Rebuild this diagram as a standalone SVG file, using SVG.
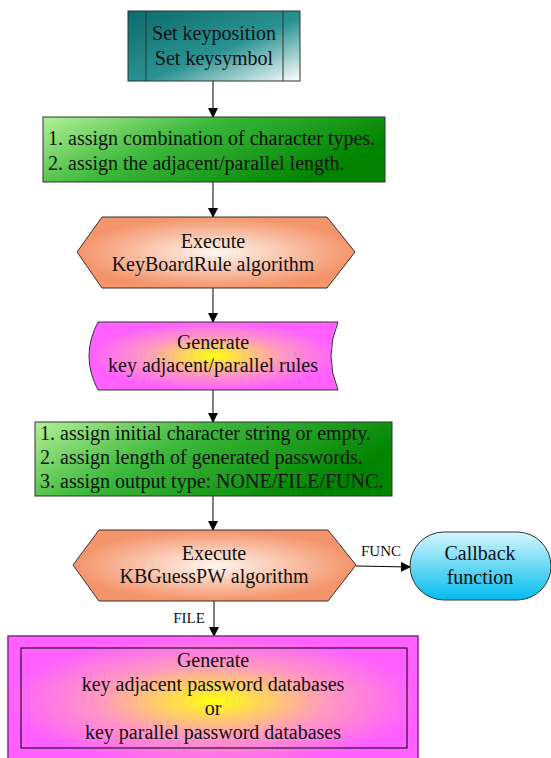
<svg xmlns="http://www.w3.org/2000/svg" width="551" height="758" viewBox="0 0 551 758">
<defs>
<linearGradient id="teal" x1="0" y1="0" x2="1" y2="1">
<stop offset="0" stop-color="#0b6c6c"/>
<stop offset="0.55" stop-color="#2a9292"/>
<stop offset="1" stop-color="#ffffff"/>
</linearGradient>
<linearGradient id="green" x1="0" y1="0" x2="1" y2="0.4">
<stop offset="0" stop-color="#b4f096"/>
<stop offset="0.45" stop-color="#3cb83c"/>
<stop offset="1" stop-color="#008400"/>
</linearGradient>
<radialGradient id="orange" cx="0.5" cy="0.5" r="0.5">
<stop offset="0" stop-color="#fff6f0"/>
<stop offset="1" stop-color="#f4946a"/>
</radialGradient>
<radialGradient id="mag" cx="0.5" cy="0.5" r="0.5">
<stop offset="0" stop-color="#ffff10"/>
<stop offset="0.55" stop-color="#ff9ac0"/>
<stop offset="1" stop-color="#ff60ff"/>
</radialGradient>
<linearGradient id="cyan" x1="0" y1="0" x2="0" y2="1">
<stop offset="0" stop-color="#d6f6fd"/>
<stop offset="1" stop-color="#00bcee"/>
</linearGradient>
<marker id="arr" markerWidth="10" markerHeight="10" refX="9" refY="5" orient="auto" markerUnits="userSpaceOnUse">
<path d="M0,0 L10,5 L0,10 z" fill="#000"/>
</marker>
</defs>
<style>
.t{font-family:"Liberation Serif","Times New Roman",serif;font-size:20px;fill:#111;}
.c{text-anchor:middle;}
.s{font-family:"Liberation Serif","Times New Roman",serif;font-size:15px;fill:#111;}
.e{stroke:#000;stroke-width:1;fill:none;marker-end:url(#arr);}
.b{stroke:#333;stroke-width:1;}
</style>
<g id="connectors">
<line class="e" x1="213" y1="81" x2="213" y2="117"/>
<line class="e" x1="213" y1="182" x2="213" y2="217"/>
<line class="e" x1="213" y1="288" x2="213" y2="322"/>
<line class="e" x1="213" y1="390" x2="213" y2="422"/>
<line class="e" x1="213" y1="496" x2="213" y2="530"/>
<line class="e" x1="214" y1="601" x2="214" y2="636"/>
<line class="e" x1="356" y1="566" x2="410" y2="567"/>
<text class="s c" x="381" y="556">FUNC</text>
<text class="s c" x="189" y="623">FILE</text>
</g>
<g id="n1">
<rect x="128" y="11" width="172" height="70" fill="url(#teal)" class="b"/>
<line x1="146" y1="11" x2="146" y2="81" class="b"/>
<line x1="283" y1="11" x2="283" y2="81" class="b"/>
<text class="t c" x="214" y="40">Set keyposition</text>
<text class="t c" x="214" y="65">Set keysymbol</text>
</g>
<g id="n2">
<rect x="43" y="117" width="342" height="65" fill="url(#green)" class="b"/>
<text class="t" x="48" y="145">1. assign combination of character types.</text>
<text class="t" x="48" y="170">2. assign the adjacent/parallel length.</text>
</g>
<g id="n3">
<polygon points="77,252 102,217 327,217 355,252 327,288 102,288" fill="url(#orange)" class="b"/>
<text class="t c" x="213" y="248">Execute</text>
<text class="t c" x="213" y="271">KeyBoardRule algorithm</text>
</g>
<g id="n4">
<path d="M98,322 L338,322 Q324,356 338,390 L98,390 Q80,356 98,322 Z" fill="url(#mag)" class="b"/>
<text class="t c" x="213" y="349">Generate</text>
<text class="t c" x="213" y="372">key adjacent/parallel rules</text>
</g>
<g id="n5">
<rect x="35" y="422" width="357" height="74" fill="url(#green)" class="b"/>
<text class="t" x="40" y="440">1. assign initial character string or empty.</text>
<text class="t" x="40" y="464">2. assign length of generated passwords.</text>
<text class="t" x="40" y="488">3. assign output type: NONE/FILE/FUNC.</text>
</g>
<g id="n6">
<polygon points="73,565 99,530 328,530 356,565 328,601 99,601" fill="url(#orange)" class="b"/>
<text class="t c" x="214" y="560">Execute</text>
<text class="t c" x="214" y="583">KBGuessPW algorithm</text>
</g>
<g id="n7">
<rect x="410" y="532" width="141" height="68" rx="34" ry="34" fill="url(#cyan)" class="b"/>
<text class="t c" x="480" y="560">Callback</text>
<text class="t c" x="480" y="584">function</text>
</g>
<g id="n8">
<rect x="8" y="636" width="410" height="130" fill="url(#mag)" stroke="#8a2a8a" stroke-width="1.5"/>
<rect x="21" y="648" width="386" height="100" fill="none" stroke="#000" stroke-width="1"/>
<text class="t c" x="213" y="667">Generate</text>
<text class="t c" x="213" y="691">key adjacent password databases</text>
<text class="t c" x="213" y="715">or</text>
<text class="t c" x="213" y="739">key parallel password databases</text>
</g>
</svg>
